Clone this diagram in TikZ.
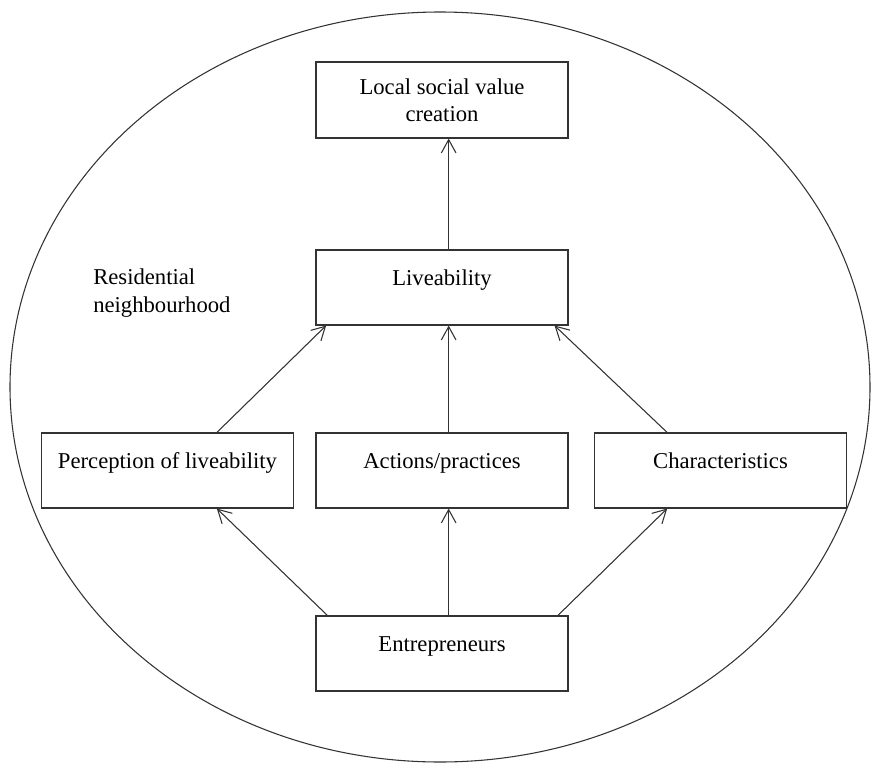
\documentclass[tikz,border=0pt]{standalone}
\usepackage{fontspec}
\setmainfont{Liberation Serif}
\usetikzlibrary{arrows.meta}
\tikzset{
  box/.style={draw=black!80,line width=0.8pt,inner sep=0pt,minimum width=189pt,
    text height=26.25pt,text depth=30pt,anchor=base},
  arr/.style={draw=black!80,line width=0.8pt,-{Straight Barb[length=10pt,width=11pt]}}
}
\begin{document}
\begin{tikzpicture}[x=0.75pt,y=-0.75pt,font=\fontsize{17}{20.3}\selectfont]
\useasboundingbox (0,0) rectangle (871,764);
%neighbourhood
\draw[black!80,line width=0.8pt] (440,387) ellipse [x radius=430,y radius=375];
\node[anchor=base west,align=left,inner sep=0pt] (res) at (93,312) {Residential\\neighbourhood};
%boxes
\node[draw=black!80,line width=0.8pt,minimum width=189pt,minimum height=57pt,align=center] (local) at (442,100) {Local social value\\creation};
\node[box] (live) at (442,285) {Liveability};
\node[box] (perc) at (167.5,468) {Perception of liveability};
\node[box] (act) at (442,468) {Actions/practices};
\node[box] (char) at (720.5,468) {Characteristics};
\node[box] (ent) at (442,651) {Entrepreneurs};
%arrows
\draw[arr] ([xshift=5pt]live.north) -- ([xshift=5pt]local.south);
\draw[arr] ([xshift=37pt]perc.north) -- ([xshift=8pt]live.south west);
\draw[arr] ([xshift=5pt]act.north) -- ([xshift=5pt]live.south);
\draw[arr] ([xshift=-40pt]char.north) -- ([xshift=-10.5pt]live.south east);
\draw[arr] ([xshift=9pt]ent.north west) -- ([xshift=37pt]perc.south);
\draw[arr] ([xshift=5pt]ent.north) -- ([xshift=5pt]act.south);
\draw[arr] ([xshift=-8pt]ent.north east) -- ([xshift=-40pt]char.south);
\end{tikzpicture}
\end{document}
